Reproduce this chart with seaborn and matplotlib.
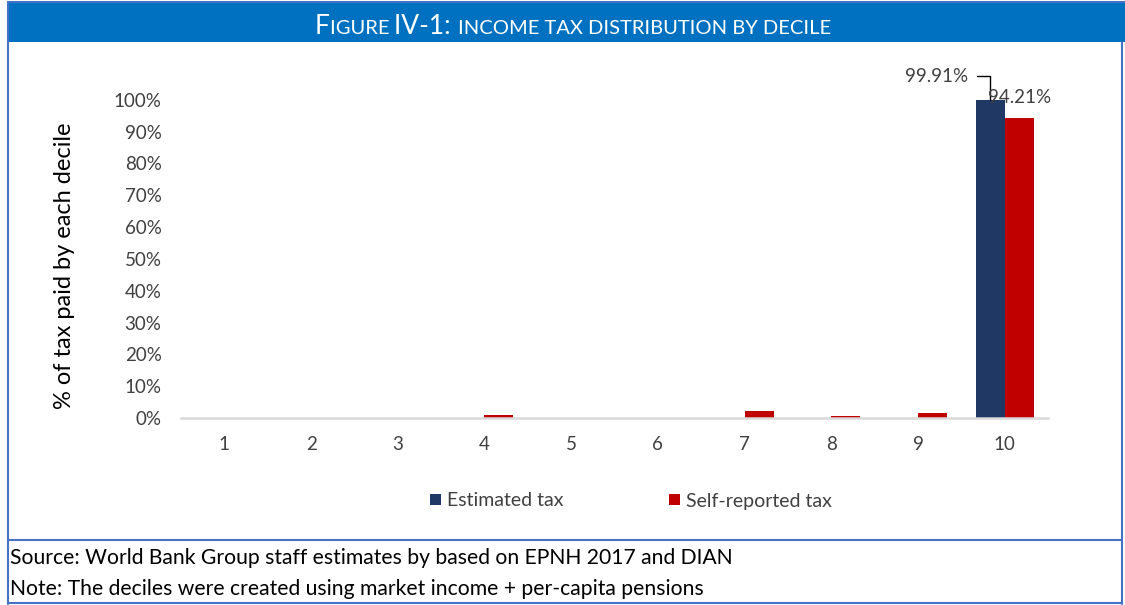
import matplotlib
matplotlib.use("Agg")
import matplotlib.pyplot as plt
from matplotlib.patches import Rectangle, Patch
from matplotlib.lines import Line2D
from matplotlib import font_manager
import seaborn as sns
import pandas as pd

# Data: share of income tax paid by each decile (%)
deciles = ["1", "2", "3", "4", "5", "6", "7", "8", "9", "10"]
estimated_tax = [0.0, 0.0, 0.0, 0.0, 0.0, 0.0, 0.0, 0.0, 0.09, 99.91]
self_reported_tax = [0.0, 0.0, 0.0, 0.8, 0.0, 0.0, 2.3, 0.6, 1.6, 94.21]
series_names = ["Estimated tax", "Self-reported tax"]
series_colors = ["#1F3864", "#C00000"]
y_ticks = [0, 10, 20, 30, 40, 50, 60, 70, 80, 90, 100]

title_parts = [("F", 19), ("IGURE ", 14.5), ("IV-1: ", 19), ("INCOME TAX DISTRIBUTION BY DECILE", 14.5)]
y_label = "% of tax paid by each decile"
source_note = "Source: World Bank Group staff estimates by based on EPNH 2017 and DIAN"
method_note = "Note: The deciles were created using market income + per-capita pensions"

available = {f.name for f in font_manager.fontManager.ttflist}
body_font = "Lato" if "Lato" in available else "DejaVu Sans"
title_font = "Liberation Sans Narrow" if "Liberation Sans Narrow" in available else body_font

sns.set_theme(style="white")
plt.rcParams["font.family"] = [body_font, "DejaVu Sans"]

W, H = 1125, 605
fig = plt.figure(figsize=(W / 100, H / 100), dpi=100)


def fx(px):
    return px / W


def fy(py):
    return 1 - py / H


# Long-form table for seaborn
df = pd.DataFrame({
    "decile": deciles * 2,
    "value": estimated_tax + self_reported_tax,
    "series": [series_names[0]] * len(deciles) + [series_names[1]] * len(deciles),
})

ax = fig.add_axes([fx(181), fy(418), fx(1048) - fx(181), fy(68) - fy(418)])
sns.barplot(data=df, x="decile", y="value", hue="series", order=deciles,
            hue_order=series_names, palette=series_colors, width=0.67, gap=0,
            saturation=1, legend=False, ax=ax, edgecolor="none")

ax.set_ylim(0, 110)
ax.set_xlim(-0.5, len(deciles) - 0.5)
ax.set_yticks(y_ticks)
ax.set_yticklabels([f"{t}%" for t in y_ticks])
ax.set_xlabel("")
ax.set_ylabel("")
for side in ["top", "right", "left"]:
    ax.spines[side].set_visible(False)
ax.spines["bottom"].set_color("#D9D9D9")
ax.spines["bottom"].set_linewidth(1.8)
ax.tick_params(axis="both", length=0, labelsize=13.5, colors="#404040")
ax.tick_params(axis="y", pad=14)
ax.tick_params(axis="x", pad=13)

# Value labels on the top decile
half = 0.67 / 4
top = len(deciles) - 1
ax.annotate(f"{estimated_tax[top]:.2f}%", xy=(top - half, estimated_tax[top]),
            xytext=(top - 0.42, estimated_tax[top] + 7.5), ha="right", va="center",
            fontsize=13.5, color="#404040",
            arrowprops=dict(arrowstyle="-", color="black", lw=1,
                            connectionstyle="angle,angleA=0,angleB=90,rad=0",
                            shrinkA=4, shrinkB=0))
ax.annotate(f"{self_reported_tax[top]:.2f}%", xy=(top + half, self_reported_tax[top]),
            xytext=(0, 9), textcoords="offset points", ha="center", va="bottom",
            fontsize=13.5, color="#404040")

# Y label
fig.text(fx(65), fy(266), y_label, rotation=90, ha="center", va="center",
         fontsize=17, color="black")

# Legend
handles = [Patch(facecolor=c, edgecolor="none", label=n) for n, c in zip(series_names, series_colors)]
fig.legend(handles=handles, loc="center", bbox_to_anchor=(fx(631), fy(501)), ncol=2,
           frameon=False, handlelength=0.55, handleheight=0.55, handletextpad=0.35,
           columnspacing=5.4, prop={"size": 14})
for t in fig.legends[0].get_texts():
    t.set_color("#404040")

# Frame: title band, borders, caption box
border = "#4472C4"
fig.add_artist(Rectangle((fx(8), fy(42)), fx(W) - fx(8), fy(3) - fy(42),
                         transform=fig.transFigure, facecolor="#0070C0", edgecolor="none"))
fig.add_artist(Line2D([fx(8), fx(W)], [fy(2), fy(2)], color=border, lw=1.5, transform=fig.transFigure))
fig.add_artist(Line2D([fx(8), fx(8)], [fy(2), fy(604)], color=border, lw=1.5, transform=fig.transFigure))
fig.add_artist(Line2D([fx(1122), fx(1122)], [fy(42), fy(604)], color=border, lw=1.5, transform=fig.transFigure))
fig.add_artist(Line2D([fx(8), fx(1122)], [fy(540), fy(540)], color=border, lw=1.5, transform=fig.transFigure))
fig.add_artist(Line2D([fx(8), fx(1122)], [fy(603), fy(603)], color=border, lw=1.5, transform=fig.transFigure))

fig.text(fx(10), fy(558), source_note, ha="left", va="center", fontsize=15.2, color="black")
fig.text(fx(10), fy(589), method_note, ha="left", va="center", fontsize=15.2, color="black")

# Small-caps title assembled piece by piece, then centred in the band
fig.canvas.draw()
renderer = fig.canvas.get_renderer()
pieces = []
x_cursor = 0.0
for txt, size in title_parts:
    t = fig.text(0, fy(23), txt, ha="left", va="baseline", fontsize=size, color="white",
                 family=[title_font, "DejaVu Sans"])
    w = t.get_window_extent(renderer).width
    pieces.append((t, x_cursor))
    x_cursor += w
total = x_cursor
start = (fx(573) * W) - total / 2
for t, off in pieces:
    t.set_x((start + off) / W)
    t.set_y(fy(34))

fig.savefig("out.png", dpi=100, facecolor="white")
